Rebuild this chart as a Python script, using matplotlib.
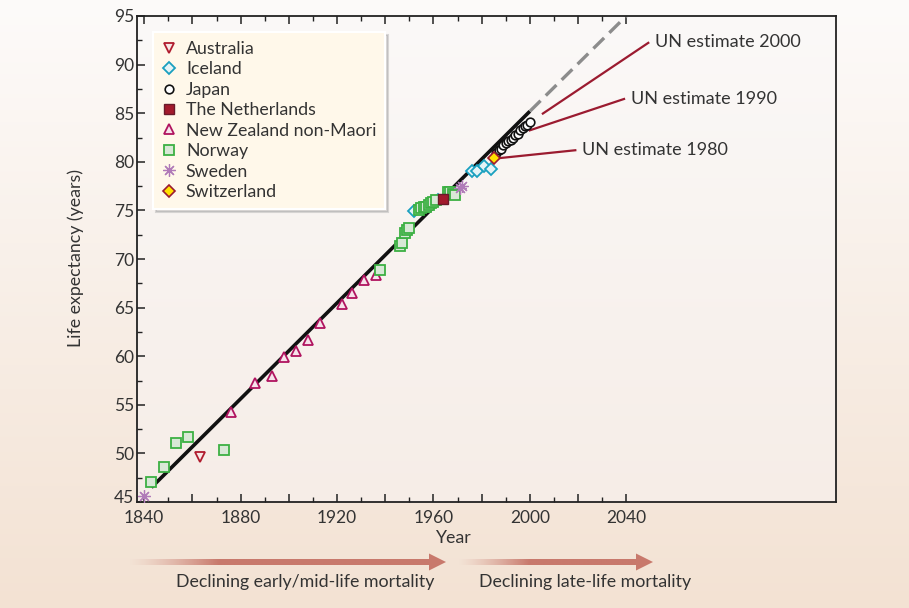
import numpy as np
import matplotlib
matplotlib.use('Agg')
import matplotlib.pyplot as plt
import matplotlib.transforms as mtrans
from matplotlib.colors import to_rgb
from matplotlib.ticker import FixedLocator
from matplotlib.patches import Polygon

plt.rcParams['font.family'] = ['Lato', 'DejaVu Sans']

# ---------------- data ----------------
australia_years = [1863]
australia_le = [49.6]

iceland_years = [1952, 1962, 1976, 1978, 1981, 1984]
iceland_le = [74.9, 76.1, 79.1, 79.1, 79.6, 79.3]

japan_years = [1986, 1987, 1988, 1989, 1990, 1991, 1992, 1993, 1994, 1995, 1996, 1997, 1998, 1999, 2000]
japan_le = [80.9, 81.2, 81.3, 81.7, 81.9, 82.1, 82.2, 82.4, 82.8, 82.9, 83.3, 83.5, 83.7, 83.8, 84.1]

netherlands_years = [1964]
netherlands_le = [76.2]

nz_years = [1876, 1886, 1893, 1898, 1903, 1908, 1913, 1922, 1926, 1931, 1936]
nz_le = [54.3, 57.2, 58.0, 59.9, 60.5, 61.7, 63.4, 65.4, 66.5, 67.8, 68.4]

norway_years = [1843, 1848, 1853, 1858, 1873, 1938, 1946, 1947, 1948, 1949, 1950,
                1954, 1955, 1956, 1957, 1958, 1959, 1960, 1961, 1966, 1967, 1968, 1969]
norway_le = [47.1, 48.6, 51.1, 51.7, 50.4, 68.9, 71.3, 71.6, 72.7, 73.0, 73.2,
             75.0, 75.2, 75.3, 75.4, 75.6, 75.8, 75.9, 76.1, 76.9, 76.9, 76.7, 76.6]

sweden_years = [1840, 1971, 1972]
sweden_le = [45.6, 77.3, 77.5]

switzerland_years = [1985]
switzerland_le = [80.4]

trend_years = [1843, 2000]
trend_le = [46.5, 85.2]
proj_years = [2000, 2040]
proj_le = [85.2, 95.0]

un_labels = ['UN estimate 1980', 'UN estimate 1990', 'UN estimate 2000']
un_start_years = [1984.3, 1999.5, 2005.0]
un_start_le = [80.3, 83.2, 84.9]
un_end_years = [2019.3, 2039.5, 2049.5]
un_end_le = [81.2, 86.5, 92.3]

x_major = [1840, 1860, 1880, 1900, 1920, 1940, 1960, 1980, 2000, 2020, 2040]
x_labels = ['1840', '', '1880', '', '1920', '', '1960', '', '2000', '', '2040']
x_minor = [1850, 1870, 1890, 1910, 1930, 1950, 1970, 1990, 2010, 2030]
y_major = [45, 50, 55, 60, 65, 70, 75, 80, 85, 90, 95]
y_minor = [47.5, 52.5, 57.5, 62.5, 67.5, 72.5, 77.5, 82.5, 87.5, 92.5]

# ---------------- figure ----------------
W, H = 909, 608
fig = plt.figure(figsize=(W / 100, H / 100), dpi=100)
TXT = '#333333'
FS = 12.8

bg = fig.add_axes([0, 0, 1, 1], zorder=-5)
t = np.linspace(0, 1, 256)[:, None]
g = np.array(to_rgb('#fdfbfa')) * (1 - t) + np.array(to_rgb('#f3e2d3')) * t
bg.imshow(g[:, None, :], extent=[0, W, H, 0], aspect='auto', interpolation='bicubic')
bg.set_xlim(0, W)
bg.set_ylim(H, 0)
bg.axis('off')


def grad_arrow(x0, x1, y, color, fade_frac):
    head_len, head_half, shaft_half = 17, 8.5, 2.7
    xh = x1 - head_len
    n = 256
    a = np.clip(np.linspace(0, 1, n) / fade_frac, 0, 1) ** 1.3
    rgba = np.zeros((1, n, 4))
    rgba[..., :3] = to_rgb(color)
    rgba[0, :, 3] = a
    bg.imshow(rgba, extent=[x0, xh + 1, y + shaft_half, y - shaft_half], aspect='auto',
              interpolation='bilinear', zorder=2)
    bg.add_patch(Polygon([[xh, y - head_half], [x1, y], [xh, y + head_half]], closed=True,
                         color=color, lw=0, zorder=3))


grad_arrow(128, 446, 562, '#c8796c', 0.3)
grad_arrow(458, 653, 562, '#c8796c', 0.4)
bg.set_xlim(0, W)
bg.set_ylim(H, 0)

fig.text(305 / W, 1 - 582 / H, 'Declining early/mid-life mortality', ha='center', va='center',
         fontsize=FS, color=TXT)
fig.text(585 / W, 1 - 582 / H, 'Declining late-life mortality', ha='center', va='center',
         fontsize=FS, color=TXT)
fig.text(453 / W, 1 - 538 / H, 'Year', ha='center', va='center', fontsize=FS, color=TXT)
fig.text(76 / W, 1 - 258 / H, 'Life expectancy (years)', ha='center', va='center',
         rotation=90, fontsize=FS, color=TXT)

ax = fig.add_axes([137 / W, 1 - 502 / H, (836 - 137) / W, (502 - 16) / H])
ax.patch.set_alpha(0)
g2 = np.array(to_rgb('#fbf9f8')) * (1 - t) + np.array(to_rgb('#f6ede7')) * t
ax.imshow(g2[:, None, :], extent=[0, 1, 0, 1], transform=ax.transAxes, aspect='auto',
          interpolation='bicubic', zorder=0)

ax.plot(trend_years, trend_le, color='#111111', lw=2.6, zorder=2, solid_capstyle='butt')
ax.plot(proj_years, proj_le, color='#8c8c8c', lw=2.4, ls=(0, (4.5, 2.2)), zorder=2)

UNC = '#9b1b30'
for lab, xs, ys, xe, ye in zip(un_labels, un_start_years, un_start_le, un_end_years, un_end_le):
    ax.plot([xs, xe], [ys, ye], color=UNC, lw=1.6, zorder=4, solid_capstyle='butt')
    ax.text(xe + 2.4, ye, lab, ha='left', va='center', fontsize=13, color=TXT)

h_au, = ax.plot(australia_years, australia_le, ls='none', marker='v', ms=7, mfc='#f7e9e6',
                mec='#b01c2e', mew=1.3, zorder=5, label='Australia')
h_is, = ax.plot(iceland_years, iceland_le, ls='none', marker='D', ms=5.8, mfc='#e4f3f6',
                mec='#1aa0bf', mew=1.3, zorder=5, label='Iceland')
h_jp, = ax.plot(japan_years, japan_le, ls='none', marker='o', ms=6.2, mfc='white',
                mec='#111111', mew=1.2, zorder=5, label='Japan')
h_nl, = ax.plot(netherlands_years, netherlands_le, ls='none', marker='s', ms=7.2, mfc='#a31a2c',
                mec='#6a1a2a', mew=1.0, zorder=6, label='The Netherlands')
h_nz, = ax.plot(nz_years, nz_le, ls='none', marker='^', ms=7, mfc='#f6e2ea',
                mec='#b0135f', mew=1.3, zorder=5, label='New Zealand non-Maori')
h_no, = ax.plot(norway_years, norway_le, ls='none', marker='s', ms=7, mfc='#d8e8d6',
                mec='#3cb043', mew=1.3, zorder=5, label='Norway')
h_se, = ax.plot(sweden_years, sweden_le, ls='none', marker=(8, 2, 0), ms=9, mfc='none',
                mec='#b07ab8', mew=0.9, zorder=5, label='Sweden')
h_ch, = ax.plot(switzerland_years, switzerland_le, ls='none', marker='D', ms=5.8, mfc='#ffe100',
                mec='#9b1b30', mew=1.2, zorder=6, label='Switzerland')

ax.set_xlim(1837, 2127)
ax.set_ylim(45, 95)

ax.xaxis.set_major_locator(FixedLocator(x_major))
ax.set_xticklabels(x_labels)
ax.xaxis.set_minor_locator(FixedLocator(x_minor))
ax.yaxis.set_major_locator(FixedLocator(y_major))
ax.yaxis.set_minor_locator(FixedLocator(y_minor))
ax.tick_params(axis='both', which='both', direction='in', top=True, right=False,
               colors='#222222', labelcolor=TXT, labelsize=12.5)
ax.tick_params(which='major', length=6, width=1.1)
ax.tick_params(which='minor', length=3.5, width=1.0)
ax.tick_params(axis='x', pad=6)
ax.tick_params(axis='y', pad=2)
for s in ax.spines.values():
    s.set_linewidth(1.3)
    s.set_color('#222222')

# lift the lowest y label slightly, as in the reference
first_ylab = ax.get_yticklabels()[0]
first_ylab.set_transform(first_ylab.get_transform() +
                         mtrans.ScaledTranslation(0, 4 / 72, fig.dpi_scale_trans))

leg = ax.legend(handles=[h_au, h_is, h_jp, h_nl, h_nz, h_no, h_se, h_ch],
                loc='upper left', bbox_to_anchor=(153 / W, 1 - 32 / H),
                bbox_transform=fig.transFigure, borderaxespad=0, frameon=True,
                fancybox=False, shadow={'color': '0.6', 'alpha': 0.35},
                fontsize=FS, labelspacing=0.25, handlelength=0.8, handletextpad=0.55,
                borderpad=0.5)
leg.get_frame().set_facecolor('#fff8ea')
leg.get_frame().set_edgecolor('white')
leg.get_frame().set_linewidth(1.5)
leg.get_frame().set_alpha(1)
for tx in leg.get_texts():
    tx.set_color(TXT)
leg.set_zorder(10)

fig.savefig('out.png', dpi=100)
